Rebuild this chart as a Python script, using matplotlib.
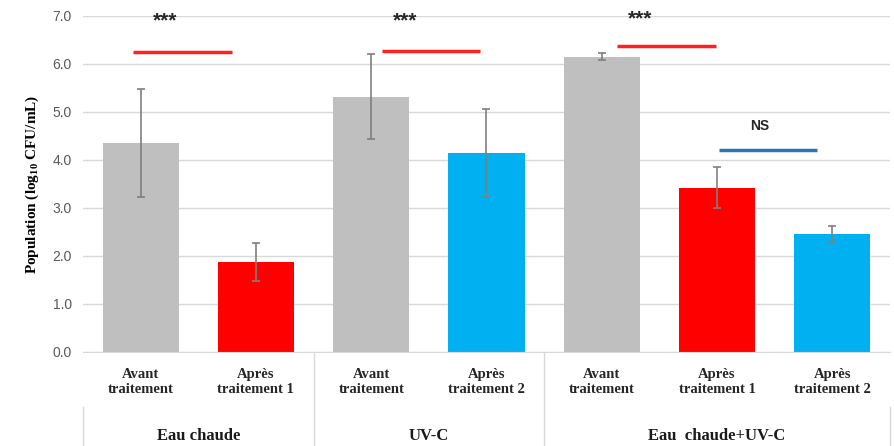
import matplotlib
matplotlib.use("Agg")
import matplotlib.pyplot as plt
from matplotlib.transforms import blended_transform_factory

plt.rcParams['mathtext.default'] = 'regular'

labels = ["Avant\ntraitement", "Après\ntraitement 1", "Avant\ntraitement", "Après\ntraitement 2",
          "Avant\ntraitement", "Après\ntraitement 1", "Après\ntraitement 2"]
groups = ["Eau chaude", "UV-C", "Eau  chaude+UV-C"]
group_spans = [(0, 1), (2, 3), (4, 6)]
values = [4.35, 1.87, 5.32, 4.15, 6.15, 3.42, 2.46]
errors = [1.13, 0.40, 0.88, 0.92, 0.07, 0.43, 0.17]
colors = ["#BFBFBF", "#FF0000", "#BFBFBF", "#00B0F0", "#BFBFBF", "#FF0000", "#00B0F0"]

# significance annotations
sig_lines = [(-0.07, 0.79, 6.24, "#FF2020"), (2.09, 2.94, 6.28, "#FF2020"),
             (4.13, 4.99, 6.37, "#FF2020"), (5.02, 5.87, 4.21, "#2E75B6")]
sig_texts = [("***", 0.21, 6.9, 15), ("***", 2.29, 6.9, 15), ("***", 4.33, 6.93, 15),
             ("NS", 5.37, 4.7, 10)]

fig = plt.figure(figsize=(8.95, 4.46), dpi=100)
ax = fig.add_axes([0.0927, 0.2108, 0.9017, 0.7534])

x = list(range(len(values)))
ax.bar(x, values, width=0.66, color=colors, zorder=2)
ax.errorbar(x, values, yerr=errors, fmt='none', ecolor='#7F7F7F', elinewidth=1.2,
            capsize=3, capthick=1.2, zorder=3)

for x0, x1, y, c in sig_lines:
    ax.plot([x0, x1], [y, y], color=c, lw=2.5, solid_capstyle='butt', zorder=4)
for t, tx, ty, fs in sig_texts:
    ax.text(tx, ty, t, ha='center', va='center', fontsize=fs, fontweight='bold',
            color='#262626', family='Liberation Sans', clip_on=False)

ax.set_xlim(-0.5, 6.5)
ax.set_ylim(0, 7)
ax.set_yticks([i for i in range(8)])
ax.set_yticklabels([f"{i:.1f}" for i in range(8)], color='#595959', fontsize=10,
                   family='Liberation Sans')
ax.yaxis.grid(True, color='#D9D9D9', lw=1, zorder=0)
ax.set_axisbelow(True)
ax.tick_params(axis='y', length=0, pad=8)
ax.tick_params(axis='x', length=0)
ax.set_xticks([])
for s in ['top', 'right', 'left']:
    ax.spines[s].set_visible(False)
ax.spines['bottom'].set_color('#D9D9D9')

ax.set_ylabel("Population (log$_{10}$ CFU/mL)", family='Liberation Serif', fontweight='bold',
              fontsize=11, labelpad=8)

tr = blended_transform_factory(ax.transData, ax.transAxes)
for xi, lab in zip(x, labels):
    ax.text(xi, -0.089, lab, transform=tr, ha='center', va='center', fontsize=10.5,
            family='Liberation Serif', fontweight='bold', color='#262626', linespacing=1.2)
for g, (a, b) in zip(groups, group_spans):
    ax.text((a + b) / 2, -0.25, g, transform=tr, ha='center', va='center', fontsize=12,
            family='Liberation Serif', fontweight='bold', color='#1a1a1a')

sep_kw = dict(transform=tr, color='#D9D9D9', lw=1, clip_on=False)
for xv in [1.5, 3.5]:
    ax.plot([xv, xv], [0, -0.3], **sep_kw)
for xv in [-0.5, 6.5]:
    ax.plot([xv, xv], [-0.165, -0.3], **sep_kw)

fig.savefig("out.png", dpi=100)
